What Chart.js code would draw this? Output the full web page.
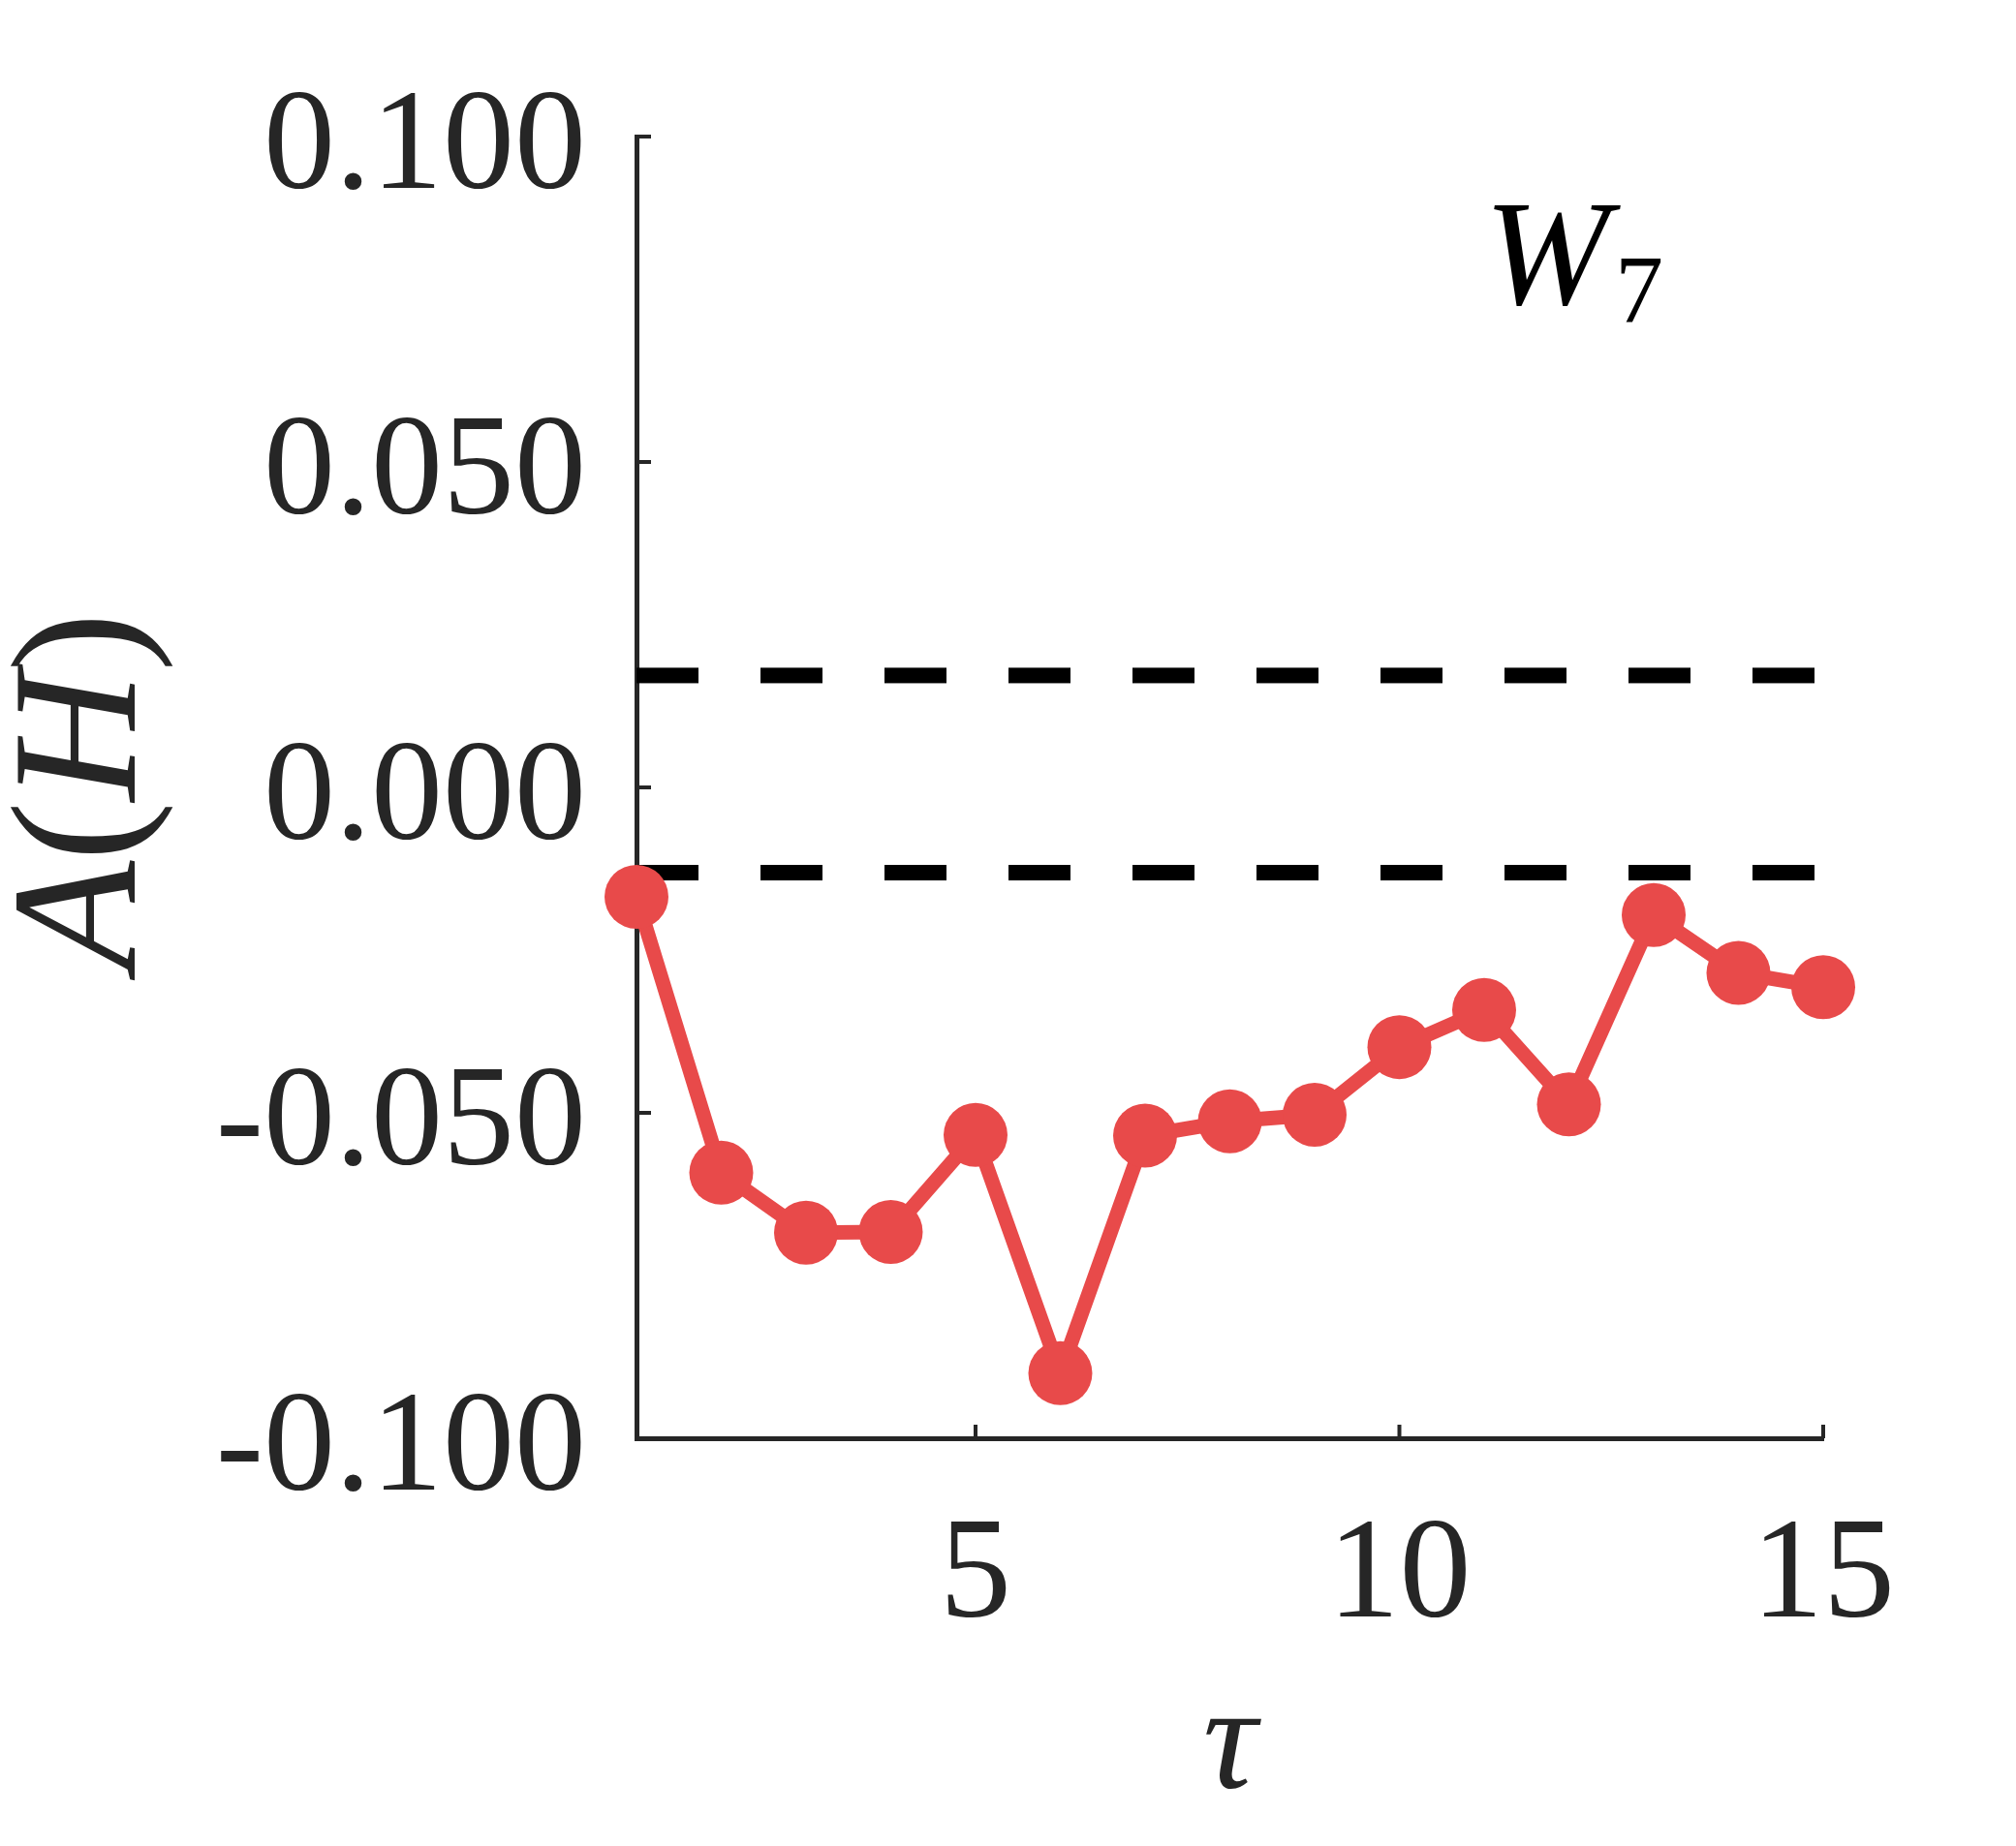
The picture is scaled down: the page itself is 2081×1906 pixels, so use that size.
<!DOCTYPE html>
<html>
<head>
<meta charset="utf-8">
<title>A(H) vs tau</title>
<script src="https://cdn.jsdelivr.net/npm/chart.js@4/dist/chart.umd.min.js"></script>
<style>
    html, body { margin: 0; padding: 0; background: #ffffff; }
    #chart { display: block; }
</style>
</head>
<body>
<canvas id="chart" width="2081" height="1906"></canvas>
<script>
    "use strict";

    // lag values and the measured A(H) at each lag
    const tau = [1, 2, 3, 4, 5, 6, 7, 8, 9, 10, 11, 12, 13, 14, 15];
    const aValues = [-0.0168, -0.0592, -0.0684, -0.0683, -0.0534, -0.0900, -0.0535, -0.0513,
        -0.0503, -0.0399, -0.0342, -0.0487, -0.0196, -0.0285, -0.0307];

    // the two dashed reference levels
    const upperBound = 0.0172;
    const lowerBound = -0.0131;

    const xTickValues = [5, 10, 15];
    const yTickValues = [-0.1, -0.05, 0, 0.05, 0.1];

    const axisColor = "#262626";
    const fontFamily = "'Liberation Serif', 'Times New Roman', serif";

    // ticks point inward, so draw them ourselves from the scales
    const inwardTicks = {
        id: "inwardTicks",
        afterDraw(chart) {
            const ctx = chart.ctx;
            const x = chart.scales.x;
            const y = chart.scales.y;
            const area = chart.chartArea;
            ctx.save();
            ctx.strokeStyle = axisColor;
            ctx.lineWidth = 4;
            yTickValues.forEach((v) => {
                let py = y.getPixelForValue(v);
                ctx.beginPath();
                ctx.moveTo(area.left, py);
                ctx.lineTo(area.left + 15, py);
                ctx.stroke();
            });
            xTickValues.forEach((v) => {
                let px = x.getPixelForValue(v);
                ctx.beginPath();
                ctx.moveTo(px, area.bottom);
                ctx.lineTo(px, area.bottom - 14);
                ctx.stroke();
            });
            ctx.restore();
        },
    };

    // y title A(H): italic letters, upright brackets
    const yTitle = {
        id: "yTitle",
        afterDraw(chart) {
            const ctx = chart.ctx;
            const area = chart.chartArea;
            const parts = [["A", "italic"], ["(", "normal"], ["H", "italic"], [")", "normal"]];
            ctx.save();
            ctx.fillStyle = axisColor;
            ctx.textBaseline = "alphabetic";
            ctx.textAlign = "left";
            let total = 0;
            parts.forEach((p) => {
                ctx.font = p[1] + " 185px " + fontFamily;
                total += ctx.measureText(p[0]).width;
            });
            let cy = (area.top + area.bottom) / 2 + 4;
            ctx.translate(139, cy + total / 2);
            ctx.rotate(-Math.PI / 2);
            let pos = 0;
            parts.forEach((p) => {
                ctx.font = p[1] + " 185px " + fontFamily;
                ctx.fillText(p[0], pos, 0);
                pos += ctx.measureText(p[0]).width;
            });
            ctx.restore();
        },
    };

    // the W_7 panel label
    const panelLabel = {
        id: "panelLabel",
        afterDraw(chart) {
            const ctx = chart.ctx;
            const area = chart.chartArea;
            ctx.save();
            ctx.fillStyle = "#000000";
            ctx.textBaseline = "alphabetic";
            ctx.textAlign = "left";
            ctx.font = "italic 155px " + fontFamily;
            let wx = area.right - 350;
            let wy = area.top + 173;
            ctx.fillText("W", wx, wy);
            ctx.font = "100px " + fontFamily;
            ctx.fillText("7", wx + 135, wy + 18);
            ctx.restore();
        },
    };

    const ctx = document.getElementById("chart").getContext("2d");

    window.mainChart = new Chart(ctx, {
        type: "line",
        data: {
            datasets: [
                {
                    label: "A(H)",
                    data: tau.map((t, i) => ({ x: t, y: aValues[i] })),
                    borderColor: "#e84a4a",
                    backgroundColor: "#e84a4a",
                    borderWidth: 15,
                    pointRadius: 33,
                    pointBorderWidth: 0,
                    pointBackgroundColor: "#e84a4a",
                    tension: 0,
                    clip: false,
                    order: 0,
                },
                {
                    label: "upper",
                    data: [{ x: tau[0], y: upperBound }, { x: tau[tau.length - 1], y: upperBound }],
                    borderColor: "#000000",
                    borderWidth: 16,
                    borderDash: [64, 64],
                    borderCapStyle: "butt",
                    pointRadius: 0,
                    order: 1,
                },
                {
                    label: "lower",
                    data: [{ x: tau[0], y: lowerBound }, { x: tau[tau.length - 1], y: lowerBound }],
                    borderColor: "#000000",
                    borderWidth: 16,
                    borderDash: [64, 64],
                    borderCapStyle: "butt",
                    pointRadius: 0,
                    order: 1,
                },
            ],
        },
        options: {
            responsive: false,
            animation: false,
            devicePixelRatio: 1,
            layout: {
                padding: { top: 141, right: 199, bottom: 0, left: 0 },
            },
            plugins: {
                legend: { display: false },
                tooltip: { enabled: false },
            },
            scales: {
                x: {
                    type: "linear",
                    position: "bottom",
                    min: 1,
                    max: 15,
                    afterBuildTicks: (scale) => {
                        scale.ticks = xTickValues.map((v) => ({ value: v }));
                    },
                    afterFit: (scale) => {
                        scale.height = 421;
                    },
                    grid: { display: false, drawTicks: false },
                    border: { display: true, color: axisColor, width: 5 },
                    ticks: {
                        color: axisColor,
                        padding: 56,
                        maxRotation: 0,
                        font: { family: fontFamily, size: 148 },
                    },
                    title: {
                        display: true,
                        text: "τ",
                        color: axisColor,
                        padding: { top: 0, bottom: 24 },
                        font: { family: fontFamily, size: 155, style: "italic", lineHeight: 1 },
                    },
                },
                y: {
                    type: "linear",
                    position: "left",
                    min: -0.1,
                    max: 0.1,
                    afterBuildTicks: (scale) => {
                        scale.ticks = yTickValues.map((v) => ({ value: v }));
                    },
                    afterFit: (scale) => {
                        scale.width = 657;
                    },
                    grid: { display: false, drawTicks: false },
                    border: { display: true, color: axisColor, width: 5 },
                    ticks: {
                        color: axisColor,
                        padding: 52,
                        labelOffset: 14,
                        font: { family: fontFamily, size: 148 },
                        callback: (v) => v.toFixed(3),
                    },
                },
            },
        },
        plugins: [inwardTicks, yTitle, panelLabel],
    });
</script>
</body>
</html>
